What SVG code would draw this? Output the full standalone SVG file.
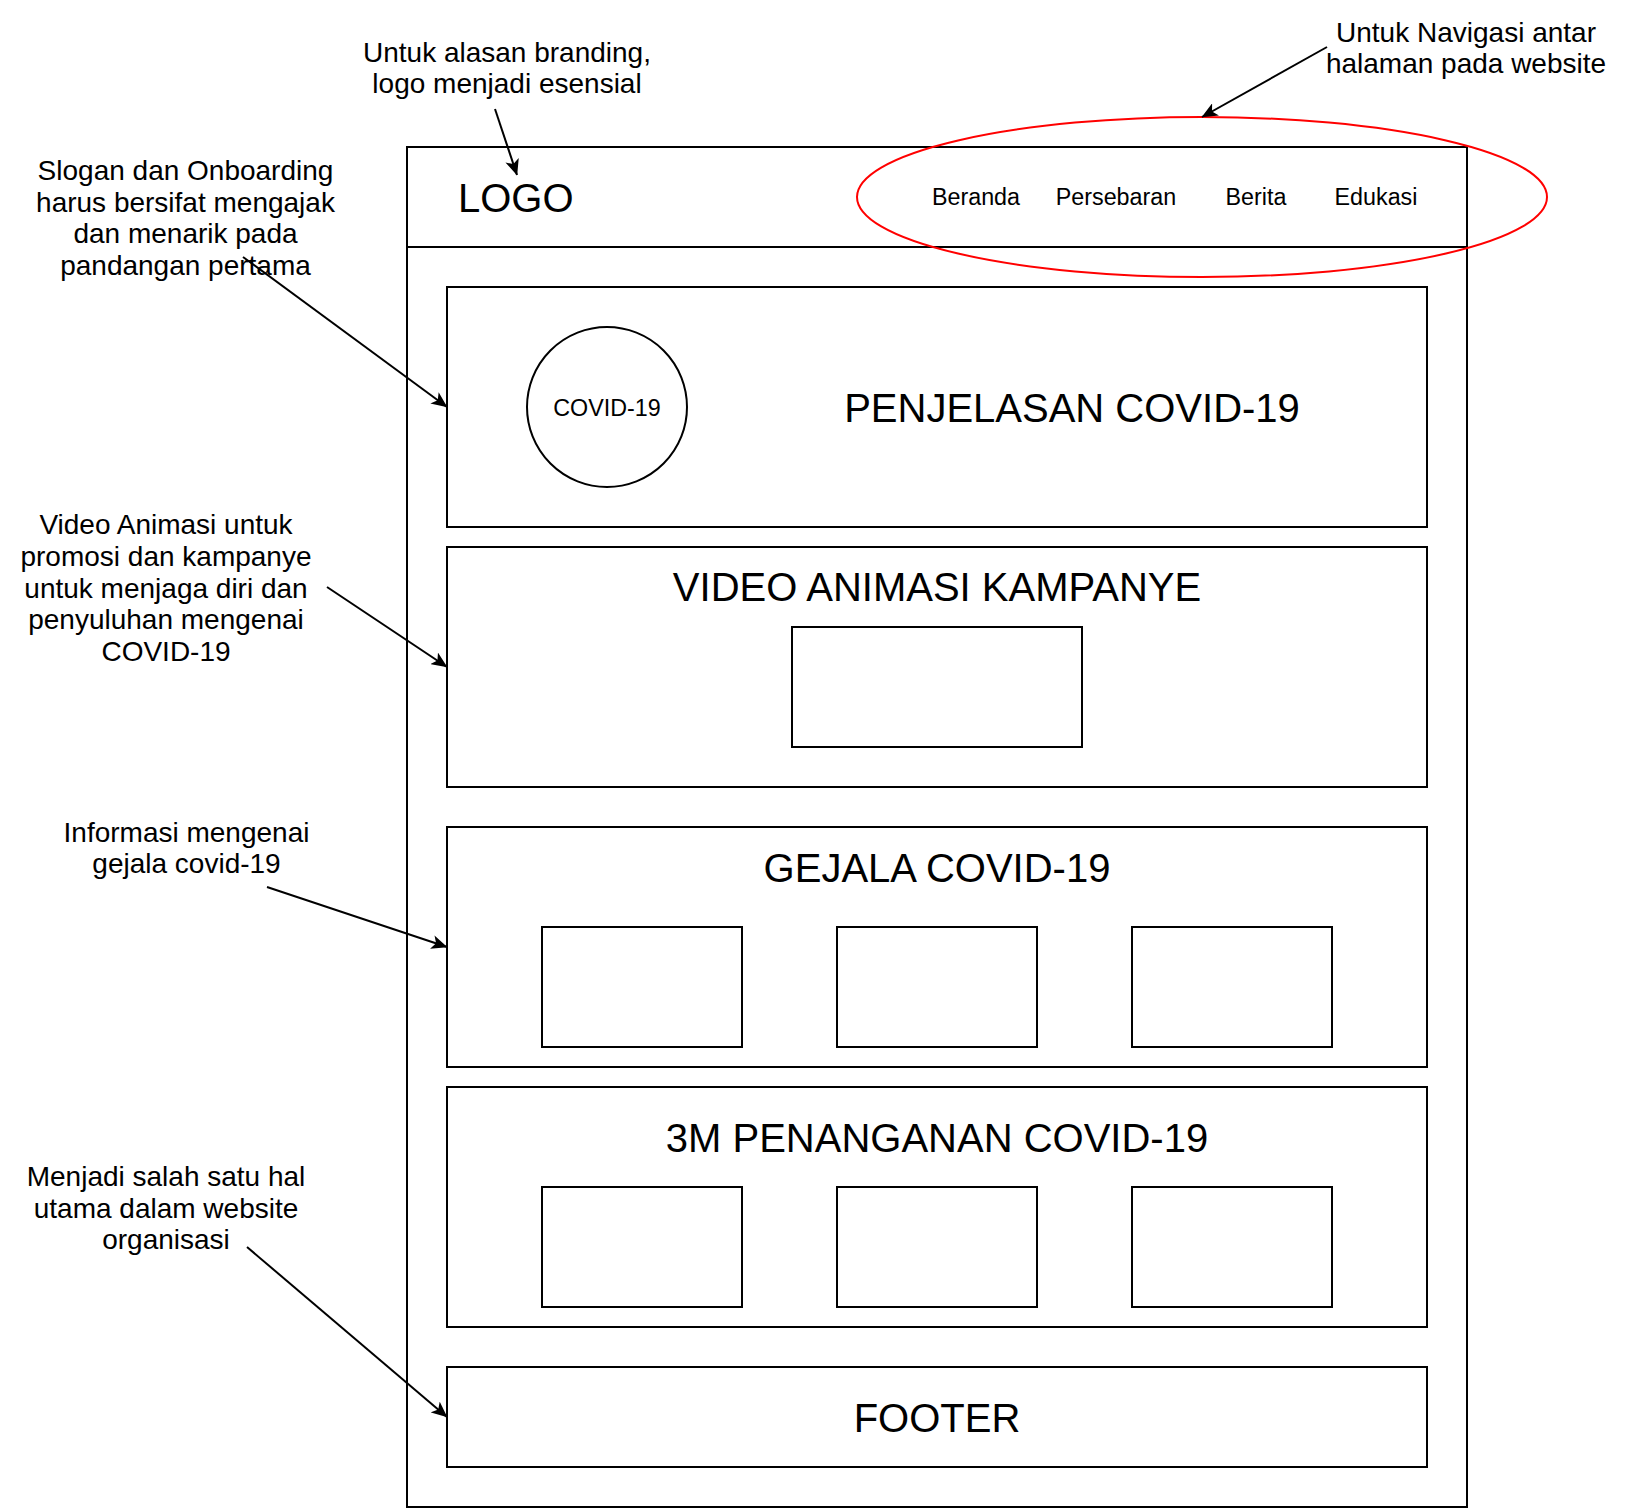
<svg xmlns="http://www.w3.org/2000/svg" width="1632" height="1510" viewBox="0 0 1632 1510">
  <style>
    .box { fill: #ffffff; stroke: #000000; stroke-width: 2; }
    .t { font-family: "Liberation Sans", Arial, Helvetica, sans-serif; fill: #000000; }
    .ann { font-size: 28px; text-anchor: middle; }
    .nav { font-size: 23.3px; text-anchor: middle; }
    .title { font-size: 40px; text-anchor: middle; }
    .conn { stroke: #000000; stroke-width: 2; fill: none; marker-end: url(#arrow); }
  </style>
  <defs>
    <marker id="arrow" markerUnits="userSpaceOnUse" viewBox="0 0 16 14" refX="15.5" refY="7" markerWidth="16" markerHeight="14" orient="auto">
      <path d="M0,0 L16,7 L0,14 L4,7 Z" fill="#000000" stroke="none"/>
    </marker>
  </defs>
  <rect width="1632" height="1510" fill="#ffffff"/>

  <g id="page-frame">
    <rect class="box" x="407" y="147" width="1060" height="1360"/>
  </g>

  <g id="header">
    <rect class="box" x="407" y="147" width="1060" height="100"/>
    <text class="t" x="458" y="211.5" font-size="40">LOGO</text>
  </g>

  <g id="nav-menu">
    <text class="t nav" x="976" y="205.3">Beranda</text>
    <text class="t nav" x="1116" y="205.3">Persebaran</text>
    <text class="t nav" x="1256" y="205.3">Berita</text>
    <text class="t nav" x="1376" y="205.3">Edukasi</text>
  </g>

  <g id="nav-highlight">
    <ellipse cx="1202" cy="197" rx="345" ry="80" fill="none" stroke="#ff0000" stroke-width="2"/>
  </g>

  <g id="section-penjelasan">
    <rect class="box" x="447" y="287" width="980" height="240"/>
    <circle cx="607" cy="407" r="80" fill="#ffffff" stroke="#000000" stroke-width="2"/>
    <text class="t nav" x="607" y="415.5">COVID-19</text>
    <text class="t title" x="1072" y="421.7">PENJELASAN COVID-19</text>
  </g>

  <g id="section-video">
    <rect class="box" x="447" y="547" width="980" height="240"/>
    <text class="t title" x="937" y="601">VIDEO ANIMASI KAMPANYE</text>
    <rect class="box" x="792" y="627" width="290" height="120"/>
  </g>

  <g id="section-gejala">
    <rect class="box" x="447" y="827" width="980" height="240"/>
    <text class="t title" x="937" y="881.7">GEJALA COVID-19</text>
    <rect class="box" x="542" y="927" width="200" height="120"/>
    <rect class="box" x="837" y="927" width="200" height="120"/>
    <rect class="box" x="1132" y="927" width="200" height="120"/>
  </g>

  <g id="section-3m">
    <rect class="box" x="447" y="1087" width="980" height="240"/>
    <text class="t title" x="937" y="1151.7">3M PENANGANAN COVID-19</text>
    <rect class="box" x="542" y="1187" width="200" height="120"/>
    <rect class="box" x="837" y="1187" width="200" height="120"/>
    <rect class="box" x="1132" y="1187" width="200" height="120"/>
  </g>

  <g id="footer">
    <rect class="box" x="447" y="1367" width="980" height="100"/>
    <text class="t title" x="937" y="1431.5">FOOTER</text>
  </g>

  <g id="note-branding">
    <text class="t ann" x="507" y="62">Untuk alasan branding,</text>
    <text class="t ann" x="507" y="93">logo menjadi esensial</text>
  </g>

  <g id="note-navigasi">
    <text class="t ann" x="1466" y="41.7">Untuk Navigasi antar</text>
    <text class="t ann" x="1466" y="72.7">halaman pada website</text>
  </g>

  <g id="note-slogan">
    <text class="t ann" x="185.5" y="180">Slogan dan Onboarding</text>
    <text class="t ann" x="185.5" y="211.7">harus bersifat mengajak</text>
    <text class="t ann" x="185.5" y="243.3">dan menarik pada</text>
    <text class="t ann" x="185.5" y="275">pandangan pertama</text>
  </g>

  <g id="note-video">
    <text class="t ann" x="166" y="534.3">Video Animasi untuk</text>
    <text class="t ann" x="166" y="565.9">promosi dan kampanye</text>
    <text class="t ann" x="166" y="597.5">untuk menjaga diri dan</text>
    <text class="t ann" x="166" y="629.1">penyuluhan mengenai</text>
    <text class="t ann" x="166" y="660.7">COVID-19</text>
  </g>

  <g id="note-gejala">
    <text class="t ann" x="186.5" y="841.5">Informasi mengenai</text>
    <text class="t ann" x="186.5" y="873">gejala covid-19</text>
  </g>

  <g id="note-footer">
    <text class="t ann" x="166" y="1186">Menjadi salah satu hal</text>
    <text class="t ann" x="166" y="1217.5">utama dalam website</text>
    <text class="t ann" x="166" y="1249">organisasi</text>
  </g>

  <g id="connectors">
    <line class="conn" x1="495" y1="109" x2="517" y2="175"/>
    <line class="conn" x1="1327" y1="47" x2="1202" y2="117"/>
    <line class="conn" x1="243" y1="257" x2="447" y2="407"/>
    <line class="conn" x1="327" y1="587" x2="447" y2="667"/>
    <line class="conn" x1="267" y1="887" x2="447" y2="947"/>
    <line class="conn" x1="247" y1="1247" x2="447" y2="1417"/>
  </g>
</svg>
